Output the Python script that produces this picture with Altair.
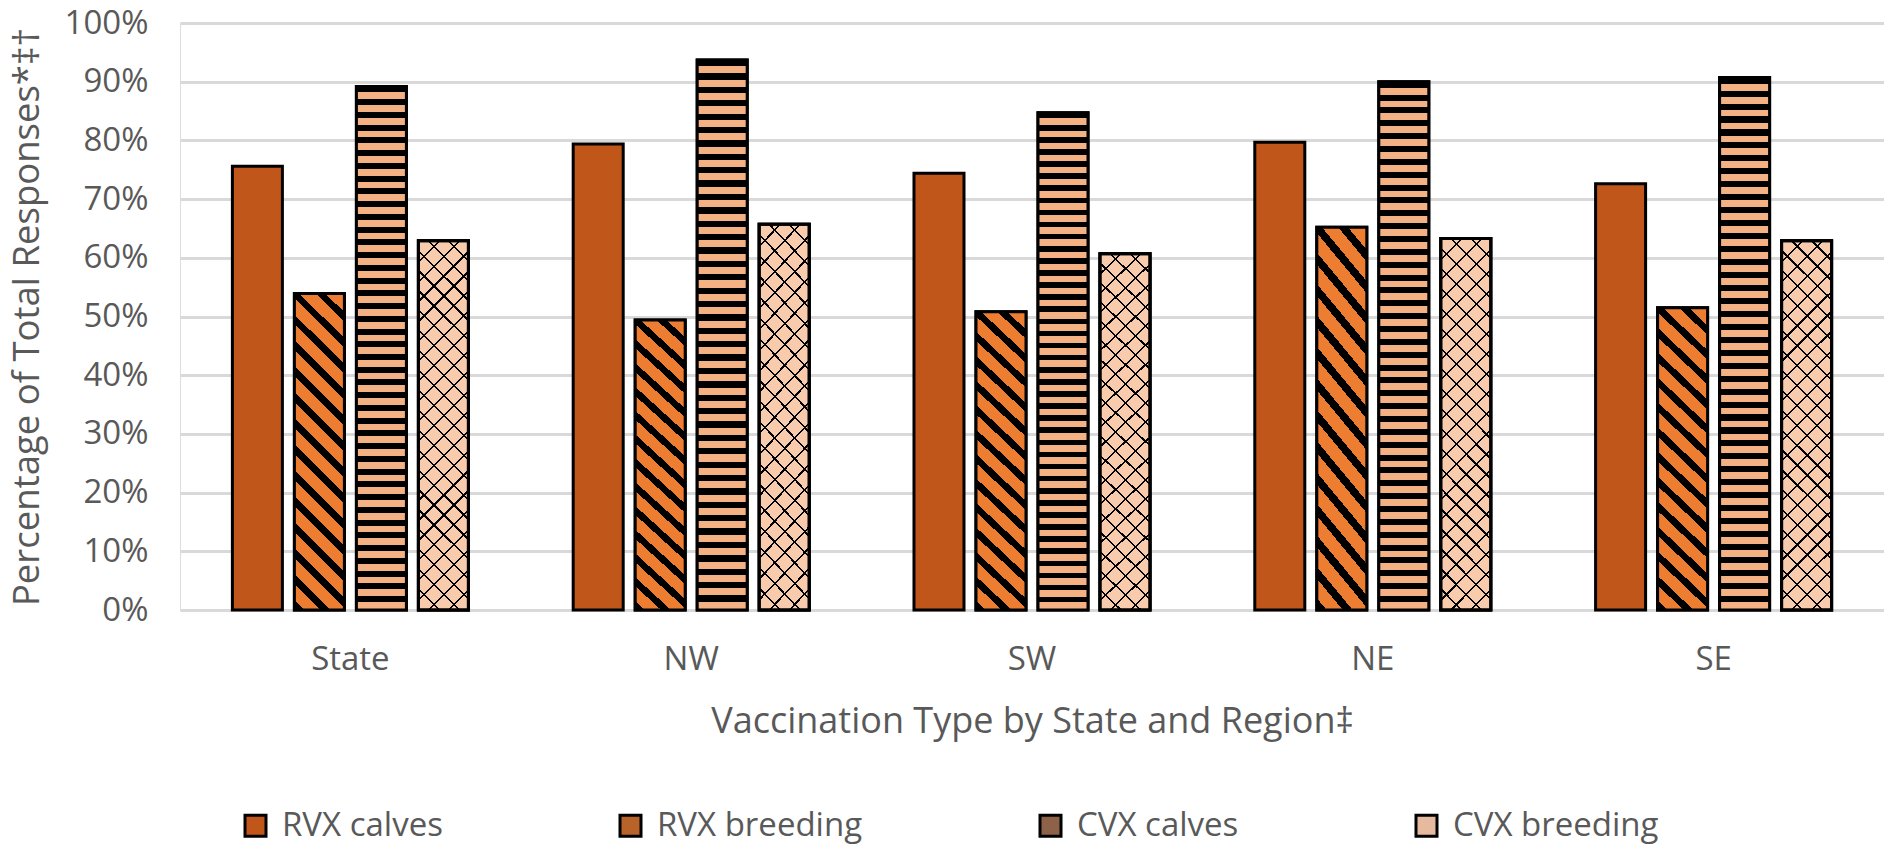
import math
import altair as alt
import pandas as pd

# ---- data ----
regions = ["State", "NW", "SW", "NE", "SE"]
series = ["RVX calves", "RVX breeding", "CVX calves", "CVX breeding"]
rvx_calves = [75.6, 79.4, 74.4, 79.7, 72.6]
rvx_breeding = [53.9, 49.4, 50.8, 65.2, 51.5]
cvx_calves = [89.2, 93.7, 84.7, 90.0, 90.7]
cvx_breeding = [62.9, 65.7, 60.7, 63.3, 62.9]
y_ticks = [0, 10, 20, 30, 40, 50, 60, 70, 80, 90, 100]

values = {
    "RVX calves": rvx_calves,
    "RVX breeding": rvx_breeding,
    "CVX calves": cvx_calves,
    "CVX breeding": cvx_breeding,
}
rows = []
for s in series:
    for r, v in zip(regions, values[s]):
        rows.append({"region": r, "series": s, "value": v})
df = pd.DataFrame(rows)

# ---- styling ----
W, H = 1704, 587
FONT = "Open Sans"
TXT = "#595959"
solid = ["#C0561A", "#B8632A", "#8E6249", "#E6BA9E"]
BAR_W = 50.0


def stripe_stops(n, frac, c1, c2):
    out = []
    i = 0
    while i < n:
        a = i / n
        b = min((i + frac) / n, 1.0)
        c = min((i + 1) / n, 1.0)
        out += [(a, c1), (b, c1), (b, c2), (c, c2)]
        i += 1
    return [{"offset": round(o, 5), "color": col} for o, col in out]


def hstripes(h, period, frac, c1, c2):
    n = h / period
    return {"gradient": "linear", "x1": 0, "y1": 0, "x2": 0, "y2": 1,
            "stops": stripe_stops(n, frac, c1, c2)}


def diag(h, w, period, frac, line, bg, down_right):
    r = h / w
    if down_right:
        v = (1.0, -r)
        p0 = (0.0, 1.0)
    else:
        v = (1.0, r)
        p0 = (0.0, 0.0)
    L = 1.0 + r
    n2 = v[0] ** 2 + v[1] ** 2
    p1 = (p0[0] + v[0] * L / n2, p0[1] + v[1] * L / n2)
    n = ((w + h) / math.sqrt(2)) / period
    return {"gradient": "linear", "x1": round(p0[0], 5), "y1": round(p0[1], 5),
            "x2": round(p1[0], 5), "y2": round(p1[1], 5),
            "stops": stripe_stops(n, frac, line, bg)}


px = H / 100.0
g_rvx_b = diag(54 * px, BAR_W, 18.4, 0.38, "#000000", "#ED7D31", True)
g_cvx_c = hstripes(89.6 * px, 12.8, 0.47, "#000000", "#F4B183")
g_cvx_b1 = diag(63 * px, BAR_W, 14.1, 0.11, "#000000", "#F8CBAD", True)
g_cvx_b2 = diag(63 * px, BAR_W, 14.1, 0.11, "#000000", "transparent", False)

x_enc = alt.X(
    "region:N", sort=regions,
    scale=alt.Scale(domain=regions, paddingInner=0, paddingOuter=0),
    axis=alt.Axis(title="Vaccination Type by State and Region‡", labelAngle=0,
                  domain=False, ticks=False, labelPadding=33,
                  labelFontSize=33, labelColor=TXT, labelFont=FONT,
                  titleFontSize=36, titleColor=TXT, titleFont=FONT,
                  titleFontWeight="normal", titleY=111, titleBaseline="middle"),
)
xo_enc = alt.XOffset("series:N",
                     scale=alt.Scale(domain=series, paddingInner=0.1935, paddingOuter=0.845))
y_enc = alt.Y(
    "value:Q", scale=alt.Scale(domain=[0, 100], nice=False),
    axis=alt.Axis(values=y_ticks, labelExpr="datum.value + '%'", grid=True,
                  gridColor="#D9D9D9", gridWidth=3, domain=False, ticks=False,
                  labelPadding=32, labelFontSize=33, labelColor=TXT, labelFont=FONT,
                  title="Percentage of Total Responses*‡†", titleFontSize=36.5,
                  titleColor=TXT, titleFont=FONT, titleFontWeight="normal",
                  titleX=-153, titleY=H / 2, titleBaseline="middle"),
)

base = alt.Chart(df)

layer0 = base.mark_bar(stroke="black", strokeWidth=3).encode(
    x=x_enc, xOffset=xo_enc, y=y_enc,
    color=alt.Color("series:N", scale=alt.Scale(domain=series, range=solid),
                    legend=alt.Legend(orient="none", legendX=59, legendY=786,
                                      direction="horizontal", columns=4,
                                      columnPadding=171, title=None,
                                      symbolType="square", symbolSize=441,
                                      symbolStrokeColor="black", symbolStrokeWidth=3,
                                      labelFontSize=33, labelColor=TXT, labelFont=FONT,
                                      labelOffset=10, labelLimit=400, padding=0)),
)


def pat_layer(name, grad):
    return base.transform_filter(alt.datum.series == name).mark_bar(
        fill=grad, stroke="black", strokeWidth=3
    ).encode(x=x_enc, xOffset=xo_enc, y=y_enc)


chart = alt.layer(
    layer0,
    pat_layer("RVX breeding", g_rvx_b),
    pat_layer("CVX calves", g_cvx_c),
    pat_layer("CVX breeding", g_cvx_b1),
    pat_layer("CVX breeding", g_cvx_b2),
).properties(
    width=W, height=H,
    autosize=alt.AutoSizeParams(type="none"),
    padding={"left": 172, "top": 15, "right": 0, "bottom": 252},
).configure_view(stroke=None).configure(background="white")

chart.save("out.html", embed_options={"renderer": "svg", "actions": False})
